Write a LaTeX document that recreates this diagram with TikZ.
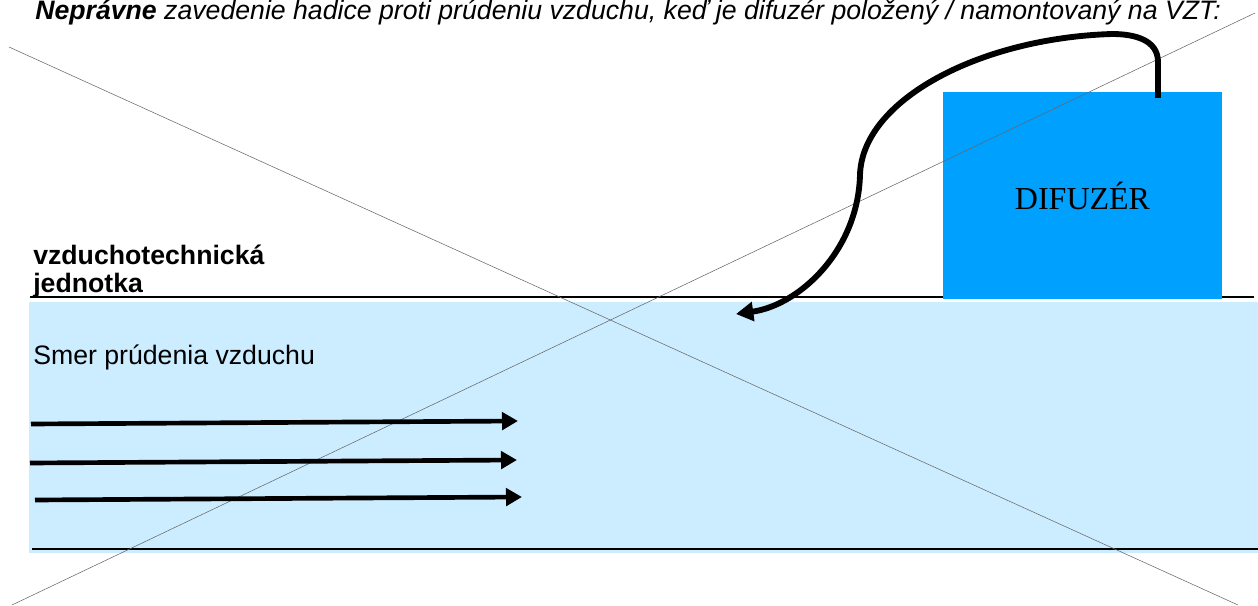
\documentclass[tikz,border=0pt]{standalone}
\usepackage{fontspec}
\setmainfont{Liberation Sans}
\newfontfamily\serifface{Liberation Serif}
\usetikzlibrary{arrows.meta,positioning}
\definecolor{ductblue}{RGB}{204,236,255}
\definecolor{diffblue}{RGB}{0,160,255}
\tikzstyle{flow} = [line width=3.5pt,-{Triangle[length=12pt,width=13pt]}]
\tikzstyle{hose} = [line width=4.4pt,-{Triangle[length=13pt,width=14pt]}]
\tikzstyle{cross} = [line width=0.4pt,black!60]
\tikzstyle{edge} = [line width=1.1pt]

\begin{document}
\begin{tikzpicture}[x=0.75pt,y=-0.75pt,every node/.style={inner sep=0pt,font=\fontsize{20}{24}\selectfont}]
    \useasboundingbox (0,0) rectangle (1258,606);
    % duct and its edges
    \fill[ductblue] (29,302) rectangle (1258,553);
    \draw[edge] (30,297) -- (1254,297);
    \draw[edge] (32,549) -- (1258,549);
    % create the nodes
    \node (difuzer)[fill=diffblue, minimum width=209.25pt, minimum height=155.25pt, font=\serifface\fontsize{24}{28}\selectfont] at (1082.5,196) {DIFUZÉR};
    \node (title)[anchor=base west] at (35,20) {\itshape\textbf{Neprávne} zavedenie hadice proti prúdeniu vzduchu, keď je difuzér položený / namontovaný na VZT:};
    \node (unit)[anchor=base west, font=\bfseries\fontsize{20}{24}\selectfont] at (33,265) {vzduchotechnická};
    \node (unit2)[anchor=base west, font=\bfseries\fontsize{20}{24}\selectfont] at (33,293) {jednotka};
    \node (flowtext)[anchor=base west] at (33,364) {Smer prúdenia vzduchu};
    \draw[line width=2pt] ([yshift=-3pt]unit2.base west) -- ([yshift=-3pt]unit2.base east);
    % crossing out
    \draw[cross] (9,47) -- (1238,605);
    \draw[cross] (12,605) -- (1255,13);
    % connect the nodes
    \coordinate (f1) at (31,424);  \coordinate (g1) at (518,421);
    \coordinate (f2) at (30,463);  \coordinate (g2) at (517,460);
    \coordinate (f3) at (35,500);  \coordinate (g3) at (522,497);
    \draw[flow] (f1) -- (g1);
    \draw[flow] (f2) -- (g2);
    \draw[flow] (f3) -- (g3);
    \coordinate (hosein) at (1158,98);
    \coordinate (hoseout) at (736,314);
    \draw[hose] (hosein) -- (1158,62) .. controls (1158,40) and (1135,34) .. (1112,34) .. controls (980,38) and (862,100) .. (860,175) .. controls (858,250) and (800,305) .. (hoseout);
\end{tikzpicture}
\end{document}
